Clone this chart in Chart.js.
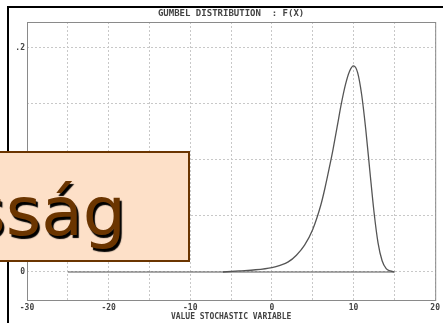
<!DOCTYPE html>
<html>
<head>
<meta charset="utf-8">
<script src="https://cdn.jsdelivr.net/npm/chart.js@4"></script>
<style>
  body { margin: 0; background: #fff; }
  #wrap { position: relative; width: 443px; height: 323px; overflow: hidden; }
  #label {
    position: absolute; left: -10px; top: 151px; width: 196px; height: 107px;
    background: #fde0c8; border: 2px solid #6b3500; overflow: hidden;
  }
  #label span {
    position: absolute; right: 62px; top: 19px;
    font-family: "Comic Sans MS", "DejaVu Sans", sans-serif; font-size: 68px;
    color: #6b3500; text-shadow: 2px 3px 1px #000; white-space: nowrap;
  }
</style>
</head>
<body>
<div id="wrap">
  <canvas id="myChart" width="443" height="323"></canvas>
  <div id="label"><span>sság</span></div>
</div>
<script>
// gumbel density
const curveX = [-6, -4, -2, 0, 1, 2, 3, 4, 5, 6, 6.5, 7, 7.5, 8, 8.5, 9, 9.5, 10, 10.5, 11, 11.5, 12, 12.5, 13, 13.5, 14, 14.5, 15];
const curveY = [0.000, 0.001, 0.002, 0.004, 0.006, 0.009, 0.015, 0.024, 0.038, 0.060, 0.075, 0.092, 0.110, 0.130, 0.150, 0.167, 0.179, 0.184, 0.178, 0.158, 0.127, 0.090, 0.054, 0.026, 0.010, 0.003, 0.001, 0.000];
// flat base line
const baseX = [-25, 15];
const baseY = [0, 0];

const xTicks = [-30, -25, -20, -15, -10, -5, 0, 5, 10, 15, 20];
const yTicks = [0, 0.05, 0.1, 0.15, 0.2];
const yLabels = { 0: "0", 0.1: ".1", 0.2: ".2" };

const titleText = "GUMBEL DISTRIBUTION  : F(X)";
const xTitle = "VALUE STOCHASTIC VARIABLE";

const tickFont = { family: "DejaVu Sans Mono", size: 8, weight: "bold" };

const frame = {
  id: "frame",
  beforeDraw(chart) {
    const c = chart.ctx;
    const a = chart.chartArea;
    c.save();
    c.strokeStyle = "#000";
    c.lineWidth = 2;
    c.beginPath();
    c.moveTo(8, 330);
    c.lineTo(8, 7);
    c.lineTo(450, 7);
    c.stroke();
    c.fillStyle = "#444";
    c.font = "bold 9px 'DejaVu Sans Mono'";
    c.textAlign = "center";
    c.textBaseline = "middle";
    c.fillText(titleText, (a.left + a.right) / 2, 14);
    c.restore();
  },
  afterDatasetsDraw(chart) {
    const c = chart.ctx;
    const a = chart.chartArea;
    c.save();
    c.strokeStyle = "#8a8a8a";
    c.lineWidth = 1;
    c.strokeRect(a.left + 0.5, a.top + 0.5, a.right - a.left, a.bottom - a.top);
    c.restore();
  }
};

function pts(xs, ys) {
  return xs.map((x, i) => ({ x: x, y: ys[i] }));
}

new Chart(document.getElementById("myChart"), {
  type: "line",
  data: {
    datasets: [
      {
        data: pts(baseX, baseY),
        borderColor: "#555",
        borderWidth: 1.2,
        pointRadius: 0,
      },
      {
        data: pts(curveX, curveY),
        borderColor: "#555",
        borderWidth: 1.3,
        pointRadius: 0,
        cubicInterpolationMode: "monotone",
      },
    ],
  },
  options: {
    responsive: false,
    animation: false,
    layout: { padding: { left: 8, right: 6, top: 22, bottom: 0 } },
    plugins: { legend: { display: false }, tooltip: { enabled: false } },
    scales: {
      x: {
        type: "linear",
        min: -30,
        max: 20,
        afterBuildTicks: (s) => { s.ticks = xTicks.map((v) => ({ value: v })); },
        afterFit: (s) => { s.height = 23; },
        border: { display: false, dash: [2, 2] },
        grid: { color: "#c8c8c8", drawTicks: false },
        ticks: {
          padding: 3,
          maxRotation: 0,
          autoSkip: false,
          color: "#444",
          font: tickFont,
          callback: (v) => (v % 10 === 0 ? String(v) : ""),
        },
        title: {
          display: true,
          text: xTitle,
          color: "#444",
          font: { family: "DejaVu Sans Mono", size: 8, weight: "bold" },
          padding: { top: 0, bottom: 1 },
        },
      },
      y: {
        min: -0.025,
        max: 0.2232,
        afterBuildTicks: (s) => { s.ticks = yTicks.map((v) => ({ value: v })); },
        afterFit: (s) => { s.width = 19; },
        border: { display: false, dash: [2, 2] },
        grid: { color: "#c8c8c8", drawTicks: false },
        ticks: {
          padding: 2,
          color: "#444",
          font: tickFont,
          callback: (v) => yLabels[Math.round(v * 100) / 100] || "",
        },
      },
    },
  },
  plugins: [frame],
});
</script>
</body>
</html>
